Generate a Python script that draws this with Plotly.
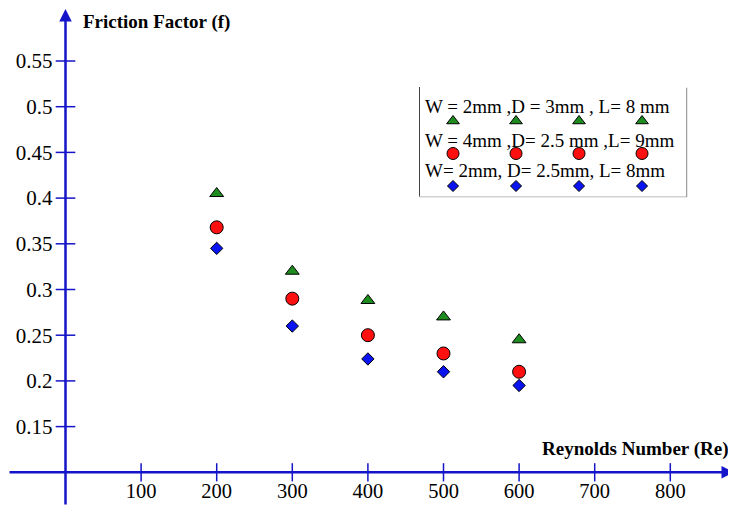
import plotly.graph_objects as go

# ---- data ----
reynolds = [200, 300, 400, 500, 600]
f_w2_d3_l8 = [0.405, 0.320, 0.288, 0.270, 0.245]
f_w4_d25_l9 = [0.368, 0.290, 0.250, 0.230, 0.210]
f_w2_d25_l8 = [0.345, 0.260, 0.224, 0.210, 0.195]
series_names = ["W = 2mm ,D = 3mm , L= 8 mm",
                "W = 4mm ,D= 2.5 mm ,L= 9mm",
                "W= 2mm, D= 2.5mm, L= 8mm"]
x_ticks = [100, 200, 300, 400, 500, 600, 700, 800]
y_ticks = [0.15, 0.2, 0.25, 0.3, 0.35, 0.4, 0.45, 0.5, 0.55]
y_tick_text = ["0.15", "0.2", "0.25", "0.3", "0.35", "0.4", "0.45", "0.5", "0.55"]

# ---- layout geometry (page has an 8px body margin) ----
OFF = 8
W, H = 736 - OFF, 506 - OFF


def px(xp):
    return (xp - OFF) / W


def py(yp):
    return 1 - (yp - OFF) / H


AX = "#1414c8"
FONT = "Liberation Serif, Times New Roman, serif"
X_PER_PX = 100 / 75.6
X0_PX = 65.5
Y_PER_PX = 0.05 / 45.7
Y055_PX = 61
XR = [(OFF - X0_PX) * X_PER_PX, (736 - X0_PX) * X_PER_PX]
YR = [0.55 - (506 - Y055_PX) * Y_PER_PX, 0.55 + (Y055_PX - OFF) * Y_PER_PX]
Y_CROSS = 0.1
xpos = (0 - XR[0]) / (XR[1] - XR[0])
ypos = (Y_CROSS - YR[0]) / (YR[1] - YR[0])

styles = [
    dict(symbol="triangle-up", color="#1e8c1e", size=12),
    dict(symbol="circle", color="#ff1010", size=13),
    dict(symbol="diamond", color="#0a14f0", size=9.5),
]
series = [f_w2_d3_l8, f_w4_d25_l9, f_w2_d25_l8]

fig = go.Figure()

# tick marks crossing axes
fig.add_trace(go.Scatter(x=x_ticks, y=[Y_CROSS] * len(x_ticks), mode="markers",
                         marker=dict(symbol="line-ns", size=13, line=dict(color=AX, width=1.5)),
                         hoverinfo="skip", showlegend=False, cliponaxis=False))
fig.add_trace(go.Scatter(x=[0] * len(y_ticks), y=y_ticks, mode="markers",
                         marker=dict(symbol="line-ew", size=14, line=dict(color=AX, width=1.5)),
                         hoverinfo="skip", showlegend=False, cliponaxis=False))

for vals, st, name in zip(series, styles, series_names):
    fig.add_trace(go.Scatter(x=reynolds, y=vals, mode="markers", name=name,
                             marker=dict(symbol=st["symbol"], color=st["color"], size=st["size"],
                                         line=dict(color="black", width=1)),
                             showlegend=False, cliponaxis=False))

# custom legend: 4 repeated markers per series on a helper axis
legend_cols = [0, 1, 2, 3]
for row, st in enumerate(styles):
    fig.add_trace(go.Scatter(x=legend_cols, y=[row] * len(legend_cols), mode="markers",
                             xaxis="x2", yaxis="y2",
                             marker=dict(symbol=st["symbol"], color=st["color"], size=st["size"] - 1,
                                         line=dict(color="black", width=1)),
                             hoverinfo="skip", showlegend=False, cliponaxis=False))

annotations = [
    # y axis arrow
    dict(x=0, y=0.55 + (Y055_PX - 9) * Y_PER_PX, ax=0, ay=YR[0], xref="x", yref="y", axref="x", ayref="y",
         text="", showarrow=True, arrowhead=2, arrowsize=1, arrowwidth=2.5, arrowcolor=AX, standoff=0),
    # x axis arrow
    dict(x=(734 - X0_PX) * X_PER_PX, y=Y_CROSS, ax=XR[0], ay=Y_CROSS, xref="x", yref="y", axref="x", ayref="y",
         text="", showarrow=True, arrowhead=2, arrowsize=1, arrowwidth=2.5, arrowcolor=AX, standoff=0),
    dict(x=px(81), y=py(22), xref="paper", yref="paper", xanchor="left", yanchor="middle",
         text="<b>Friction Factor (f)</b>", showarrow=False, font=dict(family=FONT, size=19, color="black")),
    dict(x=px(730), y=py(449), xref="paper", yref="paper", xanchor="right", yanchor="middle",
         text="<b>Reynolds Number (Re)</b>", showarrow=False, font=dict(family=FONT, size=19, color="black")),
]
text_y_px = [106.5, 140.5, 170]
for name, ty in zip(series_names, text_y_px):
    annotations.append(dict(x=px(423), y=py(ty), xref="paper", yref="paper",
                            xanchor="left", yanchor="middle", text=name, showarrow=False,
                            font=dict(family=FONT, size=19, color="black")))

shapes = [
    dict(type="rect", xref="paper", yref="paper", x0=px(420.5), x1=px(686.5),
         y0=py(196.5), y1=py(88.5), line=dict(color="#a0a0a0", width=1.5),
         fillcolor="rgba(0,0,0,0)", layer="below"),
    dict(type="rect", xref="paper", yref="paper", x0=px(420), x1=px(685),
         y0=py(195.5), y1=py(88), line=dict(color="#333333", width=1.8),
         fillcolor="rgba(0,0,0,0)", layer="below"),
]

fig.update_layout(
    template="none",
    width=W, height=H,
    margin=dict(l=0, r=0, t=0, b=0, pad=0, autoexpand=False),
    paper_bgcolor="white", plot_bgcolor="white",
    showlegend=False,
    font=dict(family=FONT, color="black"),
    xaxis=dict(range=XR, showgrid=False, zeroline=False, showline=False, automargin=False,
               tickvals=x_ticks, ticktext=[str(v) for v in x_ticks], ticks="",
               anchor="free", position=ypos, ticklabelstandoff=4,
               tickfont=dict(family=FONT, size=20.5, color="black")),
    yaxis=dict(range=YR, showgrid=False, zeroline=False, showline=False, automargin=False,
               tickvals=y_ticks, ticktext=y_tick_text, ticks="",
               anchor="free", position=xpos, ticklabelstandoff=13,
               tickfont=dict(family=FONT, size=21, color="black")),
    xaxis2=dict(domain=[px(420), px(686)], range=[-0.524, 3.698], visible=False,
                anchor="y2", fixedrange=True, automargin=False),
    yaxis2=dict(domain=[py(196.7), py(86.7)], range=[2.329, -1.055], visible=False,
                anchor="x2", fixedrange=True, automargin=False),
    annotations=annotations,
    shapes=shapes,
)

fig.write_html("out.html")
